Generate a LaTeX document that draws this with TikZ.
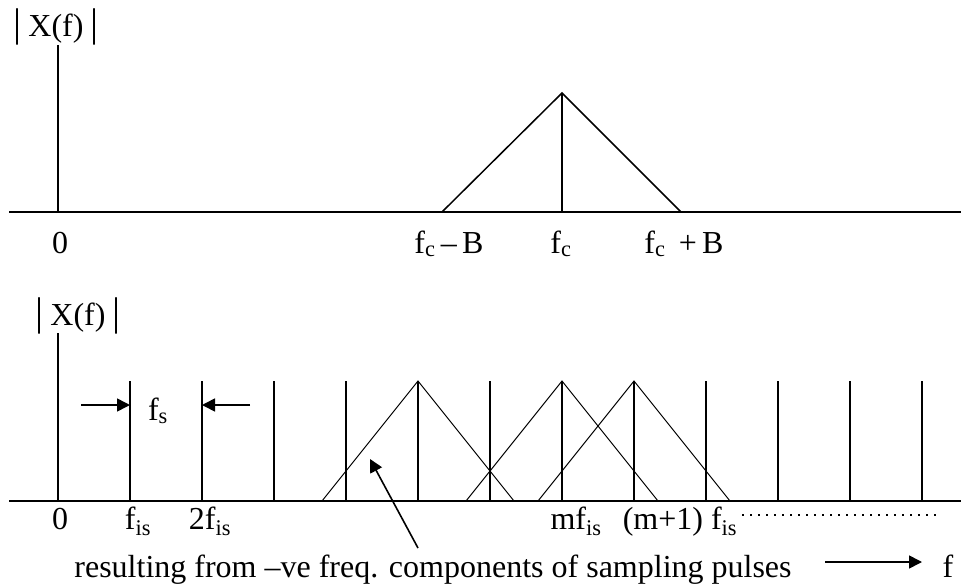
\documentclass[tikz,border=0pt]{standalone}
\usepackage{fontspec}
\setmainfont{Liberation Serif}
\usetikzlibrary{arrows.meta}

\newcommand{\magbar}{{\fontsize{40}{40}\selectfont|}}

\begin{document}
\begin{tikzpicture}[
  x=1pt, y=-1pt,
  axis/.style={line width=1.8pt},
  spike/.style={line width=1.8pt},
  tri/.style={line width=1pt},
  arr/.style={-{Triangle[length=13pt,width=13pt]}, line width=1.6pt},
  lbl/.style={anchor=base, inner sep=0pt, font=\fontsize{32}{38}\selectfont}
]
\useasboundingbox (0,0) rectangle (961,586);

% upper spectrum
\draw[axis] (9,212) -- (961,212);
\draw[spike] (58,45) -- (58,212);
\draw[line width=1.5pt] (442,212) -- (562,93) -- (681,212);
\draw[spike] (562,93) -- (562,212);

\node[lbl] (magtop) at (56,37) {\magbar\hspace{7pt}X(f)\hspace{7pt}\magbar};
\node[lbl] (zerotop) at (60,253) {0};
\node[lbl] (fclow) at (449,253) {f\textsubscript{c}\,–\,B};
\node[lbl] (fcmid) at (561,253) {f\textsubscript{c}};
\node[lbl] (fchigh) at (684,253) {f\textsubscript{c}\ \,+\,B};

% lower spectrum
\draw[axis] (9,501) -- (961,501);
\draw[spike] (58,333) -- (58,501);
\foreach \k in {1,...,12}
  \draw[spike] ({58+72*\k},381) -- ({58+72*\k},501);
\foreach \c in {418,562,634}
  \draw[tri] ({\c-96},501) -- (\c,381) -- ({\c+96},501);

\node[lbl] (magbot) at (78,325) {\magbar\hspace{7pt}X(f)\hspace{7pt}\magbar};
\node[lbl] (zerobot) at (60,529) {0};
\node[lbl] (fis) at (138,529) {f\textsubscript{is}};
\node[lbl] (twofis) at (210,529) {2f\textsubscript{is}};
\node[lbl] (mfis) at (576,529) {mf\textsubscript{is}};
\node[lbl] (mpfis) at (680,529) {(m+1) f\textsubscript{is}};
\draw[line width=2pt, dash pattern=on 2pt off 6pt] (742,515) -- (940,515);

% sampling interval
\node[lbl] (fs) at (158,420) {f\textsubscript{s}};
\coordinate (fsl) at (81,405);
\coordinate (fsla) at (130,405);
\coordinate (fsr) at (250,405);
\coordinate (fsra) at (202,405);
\draw[arr] (fsl) -- (fsla);
\draw[arr] (fsr) -- (fsra);

% note and frequency axis
\node[lbl] (note) at (433,577) {resulting from –ve freq. components of sampling pulses};
\coordinate (tail) at (418,548);
\coordinate (tip) at (370,459);
\draw[arr] (tail) -- (tip);
\node[lbl] (faxis) at (948,577) {f};
\coordinate (fstart) at (825,562);
\coordinate (fend) at (922,562);
\draw[arr] (fstart) -- (fend);
\end{tikzpicture}
\end{document}
